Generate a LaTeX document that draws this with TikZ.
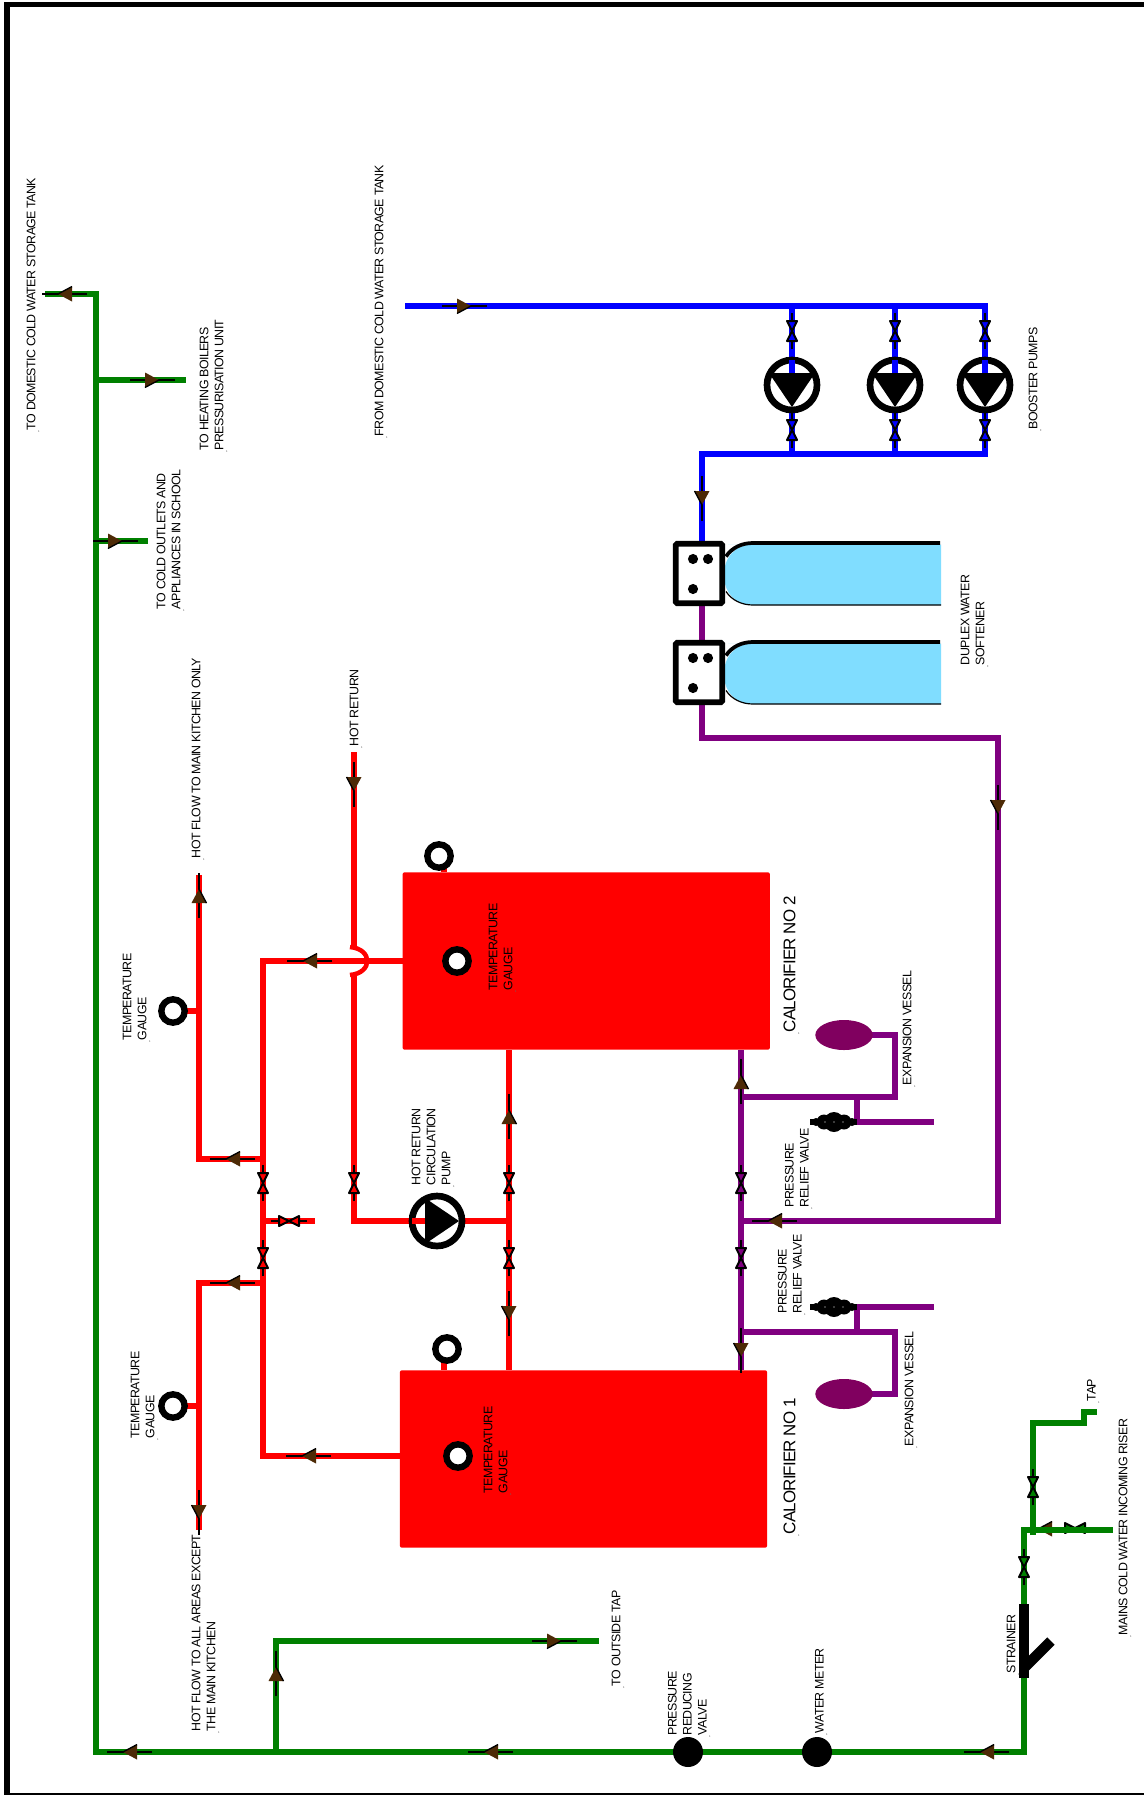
\documentclass[tikz,border=0pt]{standalone}
\usepackage{fontspec}
\usetikzlibrary{shapes.geometric}
\setmainfont[LetterSpace=-5]{Liberation Sans}
\definecolor{pgreen}{HTML}{008000}
\definecolor{pred}{HTML}{FF0000}
\definecolor{pblue}{HTML}{0000FF}
\definecolor{ppurple}{HTML}{800080}
\definecolor{pbrown}{HTML}{4D2A06}
\definecolor{psoft}{HTML}{80DDFF}
\definecolor{pvessel}{HTML}{80005F}
\tikzset{
  x=0.75pt,y=-0.75pt,
  pipe/.style={line width=4.2pt,line join=miter,line cap=butt},
  gpipe/.style={pipe,draw=pgreen},
  rpipe/.style={pipe,draw=pred},
  bpipe/.style={pipe,draw=pblue},
  vpipe/.style={pipe,draw=ppurple},
  lab/.style={rotate=90,anchor=south west,inner sep=0pt,outer sep=0pt,align=left,
    font=\fontsize{9.3}{11.25}\selectfont,text=black},
  biglab/.style={lab,font=\fontsize{12.7}{14}\selectfont},
  gauge/.style={circle,draw=black,fill=white,line width=4.8pt,minimum size=17.5pt,inner sep=0pt},
  meter/.style={circle,fill=black,minimum size=22.5pt,inner sep=0pt},
  calor/.style={rectangle,fill=pred,rounded corners=1.5pt,minimum width=275.5pt,minimum height=133pt,inner sep=0pt},
  vessel/.style={ellipse,fill=pvessel,minimum width=43pt,minimum height=22.5pt,inner sep=0pt},
  softhead/.style={rectangle,draw=black,fill=white,line width=4.3pt,rounded corners=1pt,
    minimum width=35pt,minimum height=44.5pt,inner sep=0pt},
  softdot/.style={circle,fill=black,minimum size=7.6pt,inner sep=0pt},
  pics/flow/.style={code={
    \draw[black,line width=1.2pt] (-22,0)--(23,0);
    \fill[pbrown] (7,0)--(-7,-7.5)--(-7,7.5)--cycle;
    \draw[black,line width=1pt] (7,0)--(-7,7.5);
  }},
  pics/valve/.style={code={
    \draw[black,line width=1.5pt] (-18,0)--(-10,0) (10,0)--(18,0);
    \filldraw[draw=black,fill=#1,line width=1.5pt,line join=round] (-10,-5)--(10,5)--(10,-5)--(-10,5)--cycle;
  }},
  pics/relief/.style={code={
    \draw[black,line width=4.4pt] (-24,0)--(23,0);
    \fill[black] (0,0) circle (10);
    \fill[black] (-10,0) circle (7.5) (10,0) circle (7.5);
    \fill[black] (-18,0) circle (4) (18,0) circle (4);
    \fill[white] (-9,0) circle (0.6) (9,0) circle (0.6) (0,0) circle (0.6);
  }},
  pics/pump/.style={code={
    \filldraw[draw=black,fill=white,line width=5pt] (0,0) circle (25);
    \fill[#1] (-25,-2.8) rectangle (-10,2.8);
    \fill[black,line join=round] (22,0)--(-12,-23)--(-12,23)--cycle;
  }},
  pics/tank/.style={code={
    \fill[psoft] (28,-29)--(241,-29)--(241,31.5)--(53,31.5)
       .. controls (35,31.5) and (24,19) .. (24,1.5)
       .. controls (24,-16) and (35,-29) .. (53,-29)--cycle;
    \draw[black,line width=2.8pt] (26,-17) .. controls (32,-26) and (42,-30.5) .. (53,-30.5)--(240,-30.5);
    \draw[black,line width=0.9pt] (26,18) .. controls (32,27) and (42,31.5) .. (53,31.5)--(241,31.5);
  }},
}
\newcommand{\lab}[5][lab]{\node[#1] (#2) at (#3-2.5,#4) {#5};\fill[black!60] (#3+0.7,#4+1) circle (0.55);}
\begin{document}
\begin{tikzpicture}
\useasboundingbox (0,0) rectangle (1144,1795);
\fill[white] (0,0) rectangle (1144,1795);
% frame
\fill[black] (4,2) rectangle (1144,7);
\fill[black] (4,2) rectangle (10,1795);
\fill[black] (4,1792.5) rectangle (1144,1795);

% joints: green
\coordinate (gTank) at (45,294);
\coordinate (gTop) at (96,294);
\coordinate (gBoil) at (96,380);
\coordinate (gBoilE) at (186,380);
\coordinate (gOut) at (96,541);
\coordinate (gOutE) at (148,541);
\coordinate (gCorner) at (96,1752);
\coordinate (gTee) at (276,1752);
\coordinate (gTapC) at (276,1641);
\coordinate (gTapE) at (599,1641);
\coordinate (gRise) at (1024,1752);
\coordinate (gMain) at (1024,1530);
\coordinate (gMainE) at (1113,1530);
\coordinate (gBr) at (1033,1535);
\coordinate (gBrC) at (1033,1423);
\coordinate (gBrJ) at (1084,1423);
\coordinate (gBrK) at (1084,1412);
\coordinate (gBrE) at (1097,1412);
% joints: blue
\coordinate (bIn) at (405,306);
\coordinate (bA) at (792,306);
\coordinate (bB) at (895,306);
\coordinate (bC) at (985,306);
\coordinate (bA2) at (792,454);
\coordinate (bB2) at (895,454);
\coordinate (bC2) at (985,454);
\coordinate (bD) at (702,454);
\coordinate (bE) at (702,542);
% joints: purple
\coordinate (vA) at (702,606);
\coordinate (vB) at (702,640);
\coordinate (vC) at (702,705);
\coordinate (vD) at (702,738);
\coordinate (vE) at (998,738);
\coordinate (vF) at (998,1221);
\coordinate (vG) at (741,1221);
\coordinate (vTop) at (741,1050);
\coordinate (vBot) at (741,1370);
\coordinate (vH) at (741,1097);
\coordinate (vI) at (895,1097);
\coordinate (vJ) at (895,1035);
\coordinate (vK) at (857,1097);
\coordinate (vL) at (857,1122);
\coordinate (vM) at (934,1122);
\coordinate (vN) at (741,1332);
\coordinate (vO) at (895,1332);
\coordinate (vP) at (895,1394);
\coordinate (vQ) at (857,1332);
\coordinate (vR) at (857,1307);
\coordinate (vS) at (934,1307);
% joints: red
\coordinate (rTop) at (509,1050);
\coordinate (rBot) at (509,1370);
\coordinate (rJ) at (509,1221);
\coordinate (rRet) at (354,752);
\coordinate (rJmpA) at (354,948);
\coordinate (rJmpB) at (354,974);
\coordinate (rRetC) at (354,1221);
\coordinate (rA) at (403,961);
\coordinate (rB) at (263,961);
\coordinate (rC) at (263,1456);
\coordinate (rD) at (400,1456);
\coordinate (rE) at (263,1159);
\coordinate (rF) at (199,1159);
\coordinate (rG) at (199,875);
\coordinate (rH) at (263,1283);
\coordinate (rI) at (199,1283);
\coordinate (rK) at (199,1530);
\coordinate (rL) at (263,1221);
\coordinate (rM) at (315,1221);

% items tucked under the mains pipe
\pic[rotate=180] at (1045,1529) {flow};
\pic at (1075,1528) {valve=pgreen};

% pipes
\draw[gpipe] (gTank)--(gTop)--(gCorner)--(gRise)--(gMain)--(gMainE);
\draw[gpipe] (gBoil)--(gBoilE);
\draw[gpipe] (gOut)--(gOutE);
\draw[gpipe] (gTee)--(gTapC)--(gTapE);
\draw[gpipe] (gBr)--(gBrC)--(gBrJ)--(gBrK)--(gBrE);

\draw[bpipe] (bIn)--(bC)--(bC2)--(bD)--(bE);
\draw[bpipe] (bA)--(bA2);
\draw[bpipe] (bB)--(bB2);

\draw[vpipe] (vA)--(vB);
\draw[vpipe] (vC)--(vD)--(vE)--(vF)--(vG);
\draw[vpipe] (vTop)--(vBot);
\draw[vpipe] (vH)--(vI)--(vJ)--(870,1035);
\draw[vpipe] (vK)--(vL)--(vM);
\draw[vpipe] (vL)--(810,1122);
\draw[vpipe] (vN)--(vO)--(vP)--(870,1394);
\draw[vpipe] (vQ)--(vR)--(vS);
\draw[vpipe] (vR)--(810,1307);

\draw[rpipe] (rTop)--(rBot);
\draw[rpipe] (rRet)--(rJmpA);
\draw[rpipe] (rJmpB)--(rRetC)--(rJ);
\draw[rpipe] (rA)--(rB)--(rC)--(rD);
\draw[rpipe] (rE)--(rF)--(rG);
\draw[rpipe] (rH)--(rI)--(rK);
\draw[rpipe] (rL)--(rM);
\draw[rpipe,line width=3.4pt] (350,947) .. controls (373,949) and (373,973) .. (350,975);
\draw[rpipe] (173,1011)--(199,1011);
\draw[rpipe] (173,1406)--(199,1406);
\draw[rpipe] (444,872)--(444,860);
\draw[rpipe] (444,1370)--(444,1358);

% calorifiers
\node[calor] (cal2) at (586.25,961) {};
\node[calor] (cal1) at (583.5,1459) {};
% gauges
\node[gauge] (tg1) at (173,1011) {};
\node[gauge] (tg2) at (173,1406) {};
\node[gauge] (tg3) at (439,856) {};
\node[gauge] (tg4) at (447,1349) {};
\node[gauge] (tg5) at (457,961) {};
\node[gauge] (tg6) at (458,1456) {};
% vessels
\node[vessel] (ev2) at (844,1035) {};
\node[vessel] (ev1) at (844,1394) {};
% meters
\node[meter] (prv) at (688,1752) {};
\node[meter] (wm) at (817,1752) {};
% strainer
\draw[black,line width=7.8pt] (1024,1604)--(1024,1678);
\draw[black,line width=7.8pt] (1024,1668)--(1051,1641);

% softeners
\pic at (700,573.5) {tank};
\pic at (700,672.5) {tank};
\node[softhead] (sh1) at (699,573.5) {};
\node[softhead] (sh2) at (699,672.5) {};
\node[softdot] at (693,559) {};
\node[softdot] at (708,559) {};
\node[softdot] at (693,589) {};
\node[softdot] at (693,658) {};
\node[softdot] at (708,658) {};
\node[softdot] at (693,688) {};

% pumps
\pic[rotate=-90] at (792,385) {pump=pblue};
\pic[rotate=-90] at (895,385) {pump=pblue};
\pic[rotate=-90] at (985,385) {pump=pblue};
\pic at (437,1221) {pump=pred};

% valves
\foreach \px in {792,895,985}{
  \pic[rotate=90] at (\px,331) {valve=pblue};
  \pic[rotate=90] at (\px,430) {valve=pblue};
}
\pic[rotate=90] at (741,1183) {valve=ppurple};
\pic[rotate=90] at (741,1258) {valve=ppurple};
\pic[rotate=90] at (509,1183) {valve=pred};
\pic[rotate=90] at (509,1258) {valve=pred};
\pic[rotate=90] at (354,1183) {valve=pred};
\pic[rotate=90] at (263,1183) {valve=pred};
\pic[rotate=90] at (263,1258) {valve=pred};
\pic at (289,1221) {valve=pred};
\pic[rotate=90] at (1024,1567) {valve=pgreen};
\pic[rotate=90] at (1033,1487) {valve=pgreen};
\pic at (834,1122) {relief};
\pic at (834,1307) {relief};

% flow arrows
\pic[rotate=180] at (65,294) {flow};
\pic at (152,380) {flow};
\pic at (115,541) {flow};
\pic[rotate=180] at (130,1752) {flow};
\pic[rotate=180] at (491,1752) {flow};
\pic[rotate=180] at (987,1752) {flow};
\pic[rotate=90] at (276,1674) {flow};
\pic at (554,1641) {flow};
\pic at (464,306) {flow};
\pic[rotate=-90] at (702,498) {flow};
\pic[rotate=-90] at (998,807) {flow};
\pic[rotate=180] at (775,1221) {flow};
\pic[rotate=90] at (741,1082) {flow};
\pic[rotate=-90] at (741,1350) {flow};
\pic[rotate=90] at (509,1117) {flow};
\pic[rotate=-90] at (509,1313) {flow};
\pic[rotate=-90] at (354,784) {flow};
\pic[rotate=180] at (310,961) {flow};
\pic[rotate=180] at (309,1456) {flow};
\pic[rotate=180] at (233,1159) {flow};
\pic[rotate=180] at (233,1283) {flow};
\pic[rotate=90] at (199,896) {flow};
\pic[rotate=-90] at (199,1512) {flow};

% labels
\lab{l1}{38}{430}{TO DOMESTIC COLD WATER STORAGE TANK}
\lab{l2}{226}{450}{TO HEATING BOILERS\\PRESSURISATION UNIT}
\lab{l3}{183}{609}{TO COLD OUTLETS AND\\APPLIANCES IN SCHOOL}
\lab{l4}{203}{858}{HOT FLOW TO MAIN KITCHEN ONLY}
\lab{l5}{361}{746}{HOT RETURN}
\lab{l6}{386}{436}{FROM DOMESTIC COLD WATER STORAGE TANK}
\lab{l7}{1040}{429}{BOOSTER PUMPS}
\lab{l8}{987}{665}{DUPLEX WATER\\SOFTENER}
\lab{l9}{149}{1040}{TEMPERATURE\\GAUGE}
\lab{l10}{515}{990}{TEMPERATURE\\GAUGE}
\lab[biglab]{l11}{798}{1032}{CALORIFIER NO 2}
\lab{l12}{914}{1085}{EXPANSION VESSEL}
\lab{l13}{811}{1207}{PRESSURE\\RELIEF VALVE}
\lab{l14}{804}{1313}{PRESSURE\\RELIEF VALVE}
\lab{l15}{453}{1185}{HOT RETURN\\CIRCULATION\\PUMP}
\lab{l16}{157}{1438}{TEMPERATURE\\GAUGE}
\lab{l17}{510}{1493}{TEMPERATURE\\GAUGE}
\lab[biglab]{l18}{798}{1534}{CALORIFIER NO 1}
\lab{l19}{916}{1446}{EXPANSION VESSEL}
\lab{l20}{218}{1731}{HOT FLOW TO ALL AREAS EXCEPT\\THE MAIN KITCHEN}
\lab{l21}{623}{1686}{TO OUTSIDE TAP}
\lab{l22}{709}{1735}{PRESSURE\\REDUCING\\VALVE}
\lab{l23}{826}{1733}{WATER METER}
\lab{l24}{1018}{1673}{STRAINER}
\lab{l25}{1130}{1635}{MAINS COLD WATER INCOMING RISER}
\lab{l26}{1098}{1401}{TAP}
\end{tikzpicture}
\end{document}
